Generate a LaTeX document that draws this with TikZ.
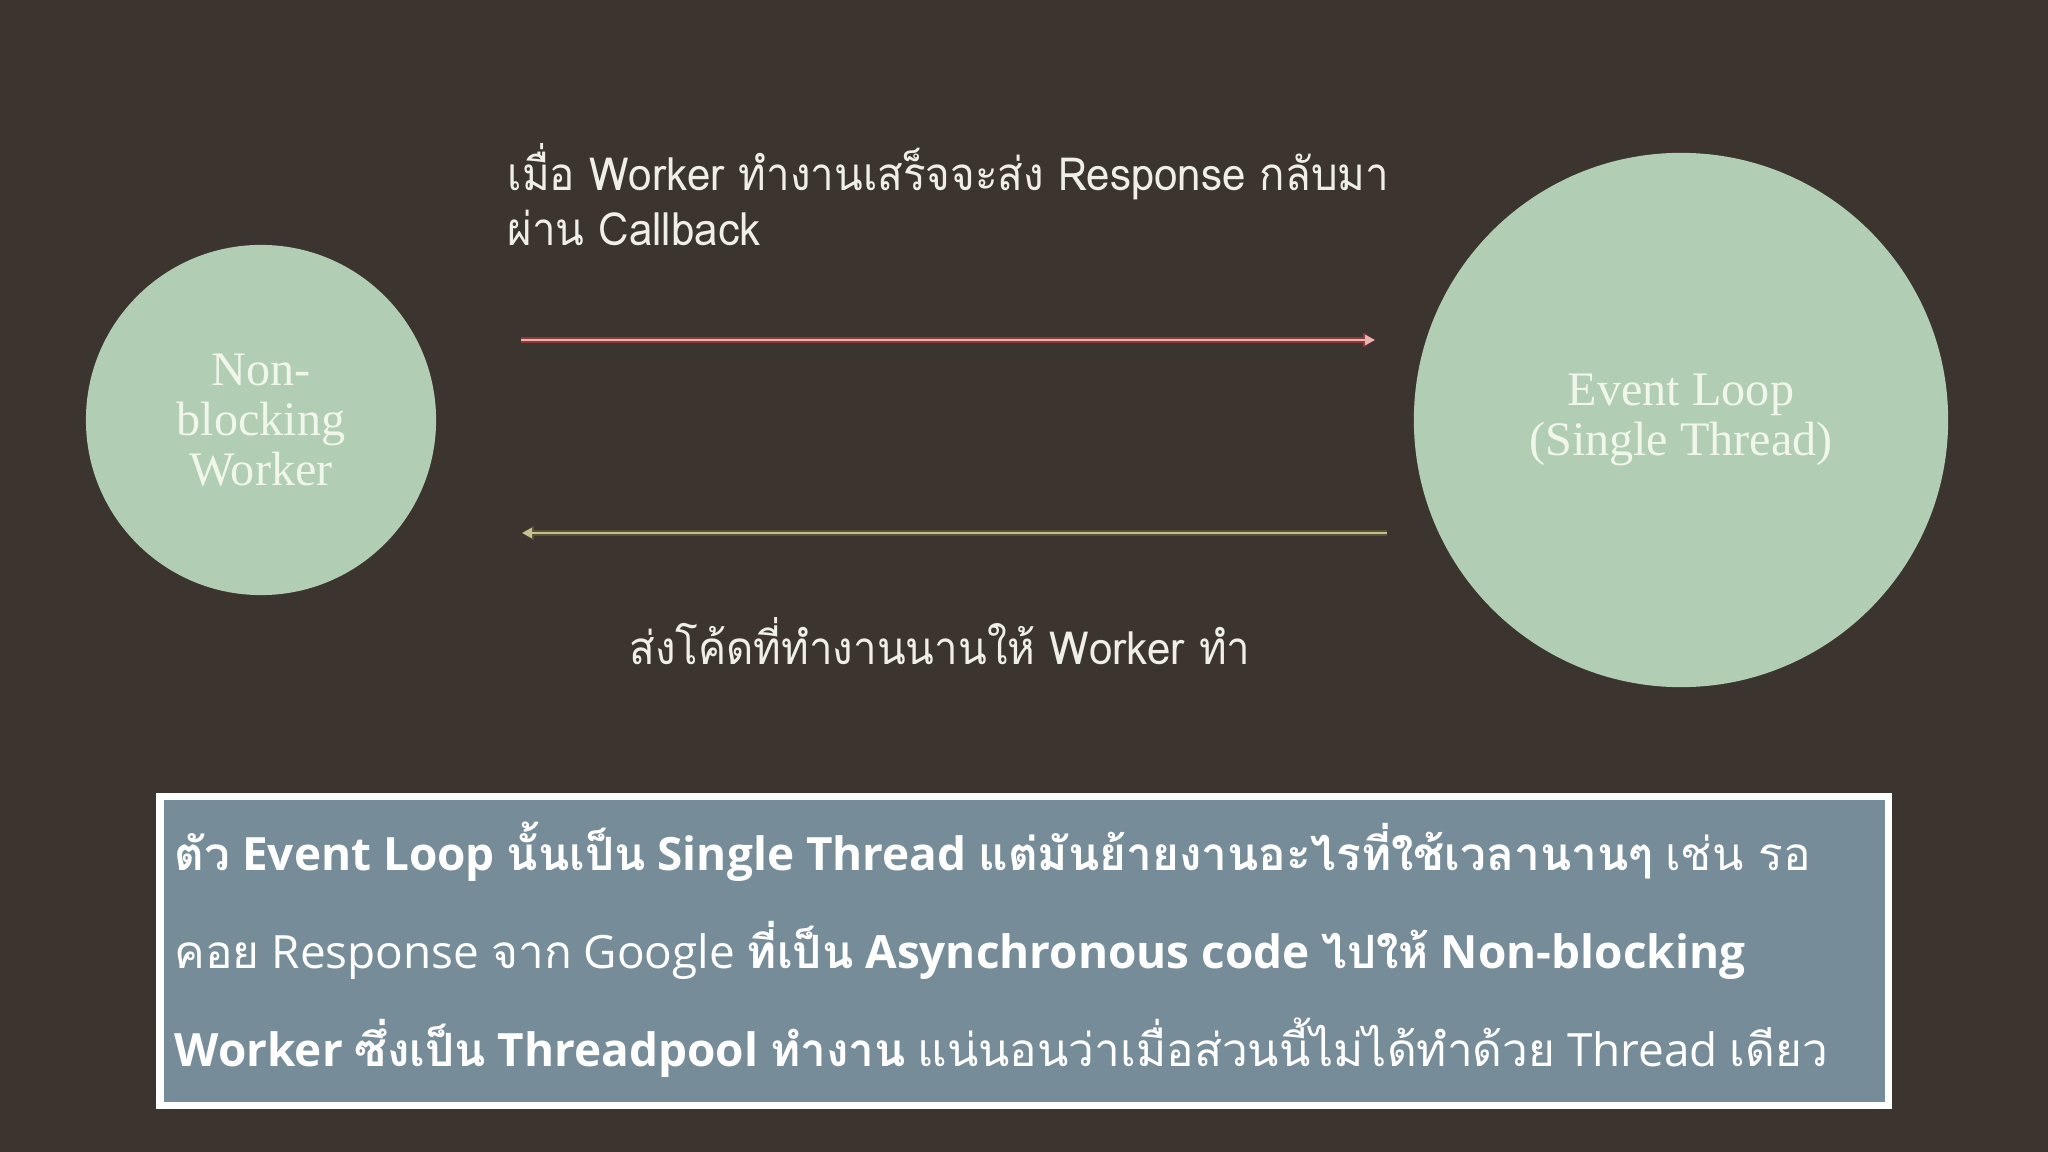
\documentclass[tikz,border=0pt]{standalone}
\usepackage{fontspec}
\setmainfont{Open Sans}
\newfontfamily\thaifont[Script=Thai]{Loma}
\newfontfamily\thaicond[Script=Thai, FakeStretch=0.92]{Loma}
\newfontfamily\bubblefont{Liberation Serif}
\usetikzlibrary{arrows.meta, positioning}
\definecolor{bgbrown}{RGB}{60,52,47}
\definecolor{sage}{RGB}{177,205,180}
\definecolor{sagetext}{RGB}{240,246,234}
\definecolor{slate}{RGB}{118,141,153}
\definecolor{resppink}{RGB}{236,178,178}
\definecolor{respred}{RGB}{140,58,58}
\definecolor{sendkhaki}{RGB}{198,192,150}
\definecolor{sendolive}{RGB}{88,82,48}
\definecolor{labelwhite}{RGB}{240,238,232}
\newcommand{\thaitxt}[1]{{\thaifont #1}}

\tikzset{
  bubble/.style={circle, fill=sage, text=sagetext, align=center, inner sep=0pt,
    font=\bubblefont\fontsize{13.7}{14.2}\selectfont},
  flowlabel/.style={text=labelwhite, anchor=base west, inner sep=0pt,
    font=\thaicond\fontsize{13}{15.6}\selectfont},
  boxline/.style={text=white, anchor=base west, inner sep=0pt,
    font=\fontsize{13.05}{16}\selectfont},
  glowred/.style={draw=respred, line width=0.55mm, -{Triangle[length=1.2mm,width=1.4mm]}},
  corepink/.style={draw=resppink, line width=0.25mm, -{Triangle[length=1mm,width=1mm]}},
  glowolive/.style={draw=sendolive, line width=0.55mm, -{Triangle[length=1.2mm,width=1.4mm]}},
  corekhaki/.style={draw=sendkhaki, line width=0.25mm, -{Triangle[length=1mm,width=1mm]}}
}

\begin{document}
\begin{tikzpicture}[x=0.01cm, y=-0.01cm]
  % Background
  \fill[bgbrown] (0,0) rectangle (2048,1152);
  \useasboundingbox (0,0) rectangle (2048,1152);

  % Circles
  \node[bubble, minimum size=35mm] (worker) at (261,420) {Non-\\blocking\\Worker};
  \node[bubble, minimum size=53.4mm] (loop) at (1681,420) {Event Loop\\(Single Thread)};

  % Arrow ends
  \coordinate (cbfrom) at (521,340);
  \coordinate (cbto) at (1375,340);
  \coordinate (jobfrom) at (1387,533);
  \coordinate (jobto) at (522,533);

  % Response via callback
  \draw[glowred] (cbfrom) -- (cbto);
  \draw[corepink] (cbfrom) -- (cbto);
  \node[flowlabel] (cblabel1) at (507,191) {เมื่อ Worker ทำงานเสร็จจะส่ง Response กลับมา};
  \node[flowlabel] (cblabel2) at (507,246) {ผ่าน Callback};

  % Long job to worker
  \draw[glowolive] (jobfrom) -- (jobto);
  \draw[corekhaki] (jobfrom) -- (jobto);
  \node[flowlabel] (joblabel) at (629,665) {ส่งโค้ดที่ทำงานนานให้ Worker ทำ};

  % Caption box
  \node[draw=white, fill=slate, line width=0.7mm, minimum width=172.7mm, minimum height=30.9mm,
    inner sep=0pt] (caption) at (1024,951) {};
  \node[boxline] (capline1) at (174,870) {\bfseries\thaitxt{ตัว} Event Loop \thaitxt{นั้นเป็น} Single Thread \thaitxt{แต่มันย้ายงานอะไรที่ใช้เวลานานๆ}\mdseries\ \thaitxt{เช่น รอ}};
  \node[boxline] (capline2) at (174,968) {\thaitxt{คอย} Response \thaitxt{จาก} Google \bfseries\thaitxt{ที่เป็น} Asynchronous code \thaitxt{ไปให้} Non-blocking};
  \node[boxline] (capline3) at (174,1066) {\bfseries Worker \thaitxt{ซึ่งเป็น} Threadpool \thaitxt{ทำงาน}\mdseries\ \thaitxt{แน่นอนว่าเมื่อส่วนนี้ไม่ได้ทำด้วย} Thread \thaitxt{เดียว}};
\end{tikzpicture}
\end{document}
